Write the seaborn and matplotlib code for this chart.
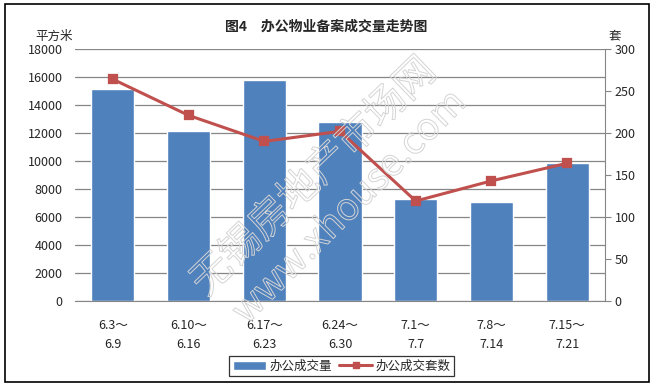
import matplotlib
matplotlib.use("Agg")
import matplotlib.pyplot as plt
import matplotlib.patheffects as pe
from matplotlib.patches import Rectangle, Patch
from matplotlib.lines import Line2D
import seaborn as sns

# data
weeks = ["6.3～\n6.9", "6.10～\n6.16", "6.17～\n6.23", "6.24～\n6.30",
         "7.1～\n7.7", "7.8～\n7.14", "7.15～\n7.21"]
area = [15140, 12140, 15790, 12790, 7290, 7070, 9860]   # 办公成交量 (平方米)
units = [264, 221, 190, 202, 119, 143, 164]             # 办公成交套数 (套)

bar_color = "#4F81BD"
line_color = "#C0504D"

sns.set_style("white")
plt.rcParams["font.family"] = ["Noto Sans CJK SC", "DejaVu Sans"]

fig = plt.figure(figsize=(6.53, 3.86), dpi=100)
ax = fig.add_axes([75 / 653, 85 / 386, 530 / 653, 252 / 386])

sns.barplot(x=weeks, y=area, color=bar_color, width=0.57, saturation=1, ax=ax, zorder=2)
ax.set_ylim(0, 18000)
ax.set_yticks(range(0, 18001, 2000))
ax.yaxis.grid(True, color="#868686", linewidth=0.9)
ax.set_axisbelow(True)
for s in ["top", "left", "right"]:
    ax.spines[s].set_visible(False)
ax.spines["bottom"].set_color("#868686")
ax.tick_params(axis="y", length=0, pad=9, labelsize=9)
ax.tick_params(axis="x", length=0, pad=13, labelsize=9)
for t in ax.get_xticklabels():
    t.set_linespacing(1.6)

ax2 = ax.twinx()
sns.pointplot(x=weeks, y=units, color=line_color, markers="s", markersize=6,
              linewidth=2.2, ax=ax2)
ax2.set_ylim(0, 300)
ax2.set_yticks(range(0, 301, 50))
for s in ["top", "left", "bottom"]:
    ax2.spines[s].set_visible(False)
ax2.spines["right"].set_color("#868686")
ax2.tick_params(axis="y", length=4, pad=3, labelsize=9, color="#868686", direction="out")
ax2.set_xlim(ax.get_xlim())

fig.text(0.5, (386 - 27) / 386, "图4　办公物业备案成交量走势图", ha="center", va="center",
         fontsize=10, fontweight="bold")
fig.text(35 / 653, (386 - 36) / 386, "平方米", ha="left", va="center", fontsize=9)
fig.text(609 / 653, (386 - 36) / 386, "套", ha="left", va="center", fontsize=9)

# watermark (outlined text)
wm = [pe.Stroke(linewidth=0.7, foreground="#d4d4d4")]
fig.text(314 / 653, (386 - 177) / 386, "无锡房地产市场网", rotation=44, ha="center",
         va="center", fontsize=29, color="none", path_effects=wm)
fig.text(350 / 653, (386 - 207) / 386, "www.xhouse.com", rotation=45, ha="center",
         va="center", fontsize=27, color="none", path_effects=wm)

handles = [Patch(facecolor=bar_color),
           Line2D([0], [0], color=line_color, lw=2.2, marker="s", markersize=5)]
leg = fig.legend(handles, ["办公成交量", "办公成交套数"], loc="center",
                 bbox_to_anchor=(342 / 653, 20 / 386), ncol=2, fontsize=9,
                 frameon=True, fancybox=False, edgecolor="black", handlelength=2.6,
                 columnspacing=0.6, handletextpad=0.3, borderpad=0.3)
leg.get_frame().set_linewidth(0.9)

fig.patches.append(Rectangle((5 / 653, 4 / 386), 644 / 653, 378 / 386, fill=False,
                             edgecolor="black", linewidth=1.2, transform=fig.transFigure))

fig.savefig("out.png", dpi=100)
